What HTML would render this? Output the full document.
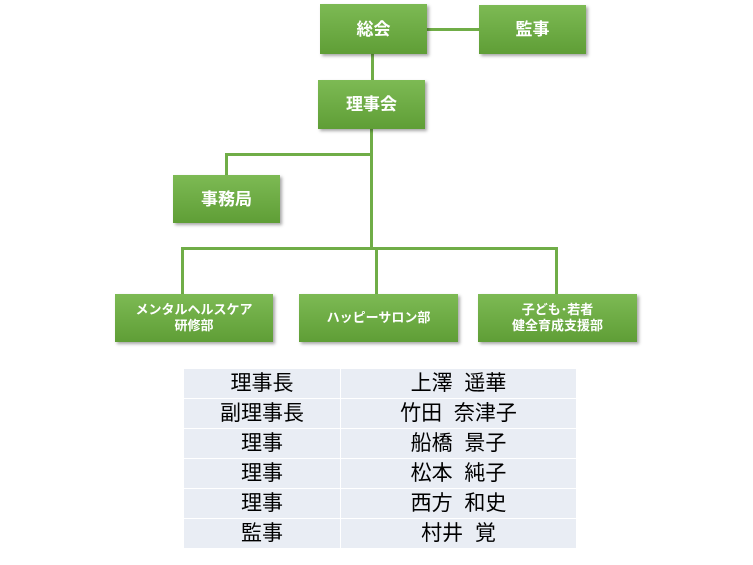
<!DOCTYPE html>
<html><head><meta charset="utf-8"><style>
body{margin:0;width:753px;height:565px;background:#fff;position:relative;overflow:hidden;font-family:"Liberation Sans","Noto Sans CJK JP",sans-serif}
.b{position:absolute;background:linear-gradient(#7dba54,#5f9e36);color:#fff;font-weight:bold;display:flex;align-items:center;justify-content:center;text-align:center;box-shadow:2px 2px 3px rgba(0,0,0,.35);font-size:17px;line-height:17px}
.s{font-size:13px;line-height:16px}
.l{position:absolute;background:#70ad47}
table{position:absolute;left:183px;top:368px;width:394px;border-collapse:collapse;font-size:21px}
td{background:#e9edf4;height:29px;padding:0;text-align:center;border:1px solid #fff;line-height:29px;white-space:pre}
</style></head><body>
<div class="l" style="left:427px;top:28px;width:52px;height:3px"></div>
<div class="l" style="left:371px;top:54px;width:3px;height:26px"></div>
<div class="l" style="left:370px;top:129px;width:3px;height:120px"></div>
<div class="l" style="left:225px;top:153px;width:148px;height:3px"></div>
<div class="l" style="left:225px;top:153px;width:3px;height:22px"></div>
<div class="l" style="left:181px;top:247px;width:377px;height:3px"></div>
<div class="l" style="left:181px;top:247px;width:3px;height:47px"></div>
<div class="l" style="left:375px;top:247px;width:3px;height:47px"></div>
<div class="l" style="left:555px;top:247px;width:3px;height:47px"></div>
<div class="b" style="left:320px;top:4px;width:107px;height:50px">総会</div>
<div class="b" style="left:479px;top:5px;width:107px;height:49px">監事</div>
<div class="b" style="left:318px;top:80px;width:107px;height:49px">理事会</div>
<div class="b" style="left:173px;top:175px;width:107px;height:48px">事務局</div>
<div class="b s" style="left:115px;top:294px;width:158px;height:48px">メンタルヘルスケア<br>研修部</div>
<div class="b s" style="left:299px;top:294px;width:159px;height:48px">ハッピーサロン部</div>
<div class="b s" style="left:478px;top:294px;width:159px;height:48px">子ども･若者<br>健全育成支援部</div>
<table>
<tr><td style="width:156px">理事長</td><td>上澤  遥華</td></tr>
<tr><td>副理事長</td><td>竹田  奈津子</td></tr>
<tr><td>理事</td><td>船橋  景子</td></tr>
<tr><td>理事</td><td>松本  純子</td></tr>
<tr><td>理事</td><td>西方  和史</td></tr>
<tr><td>監事</td><td>村井  覚</td></tr>
</table>
</body></html>
